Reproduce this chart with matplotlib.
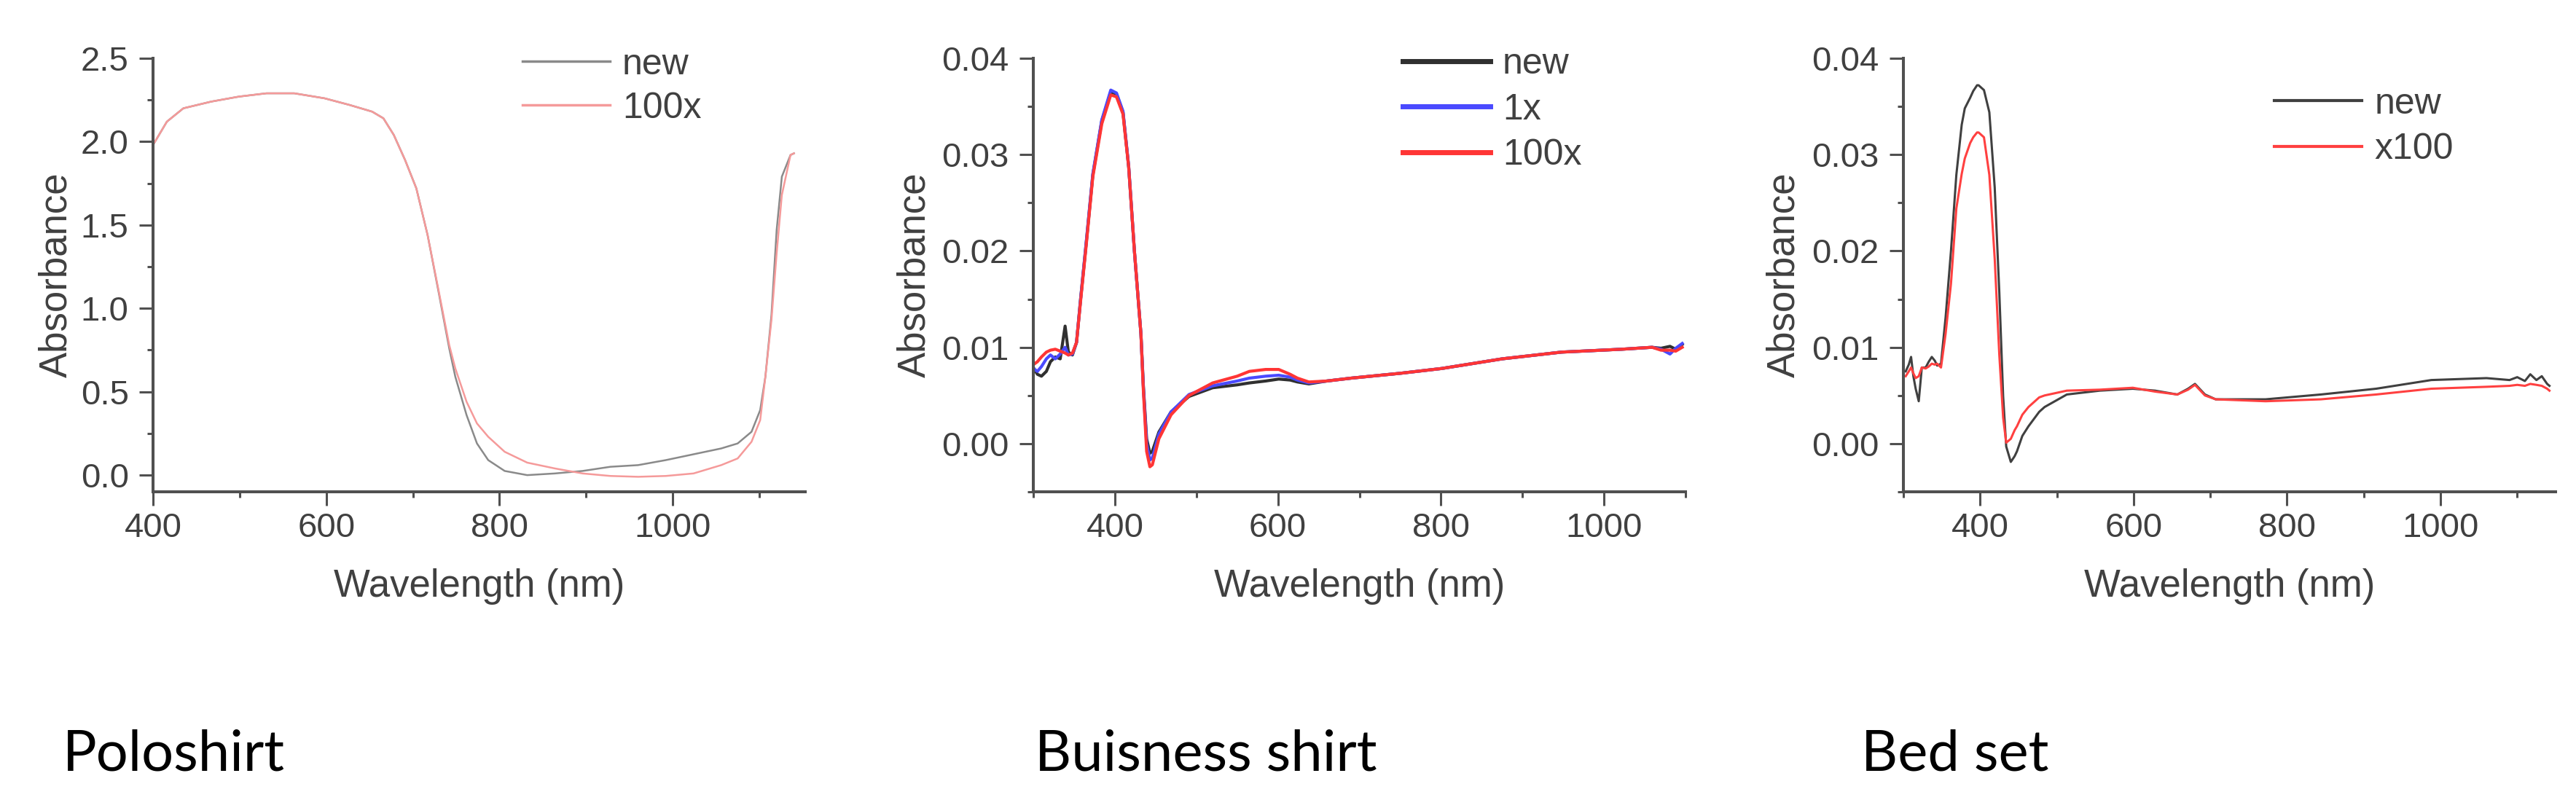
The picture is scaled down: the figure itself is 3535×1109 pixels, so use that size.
import numpy as np
import matplotlib
matplotlib.use("Agg")
import matplotlib.pyplot as plt
from matplotlib.ticker import MultipleLocator, FormatStrFormatter

# Poloshirt
nm1 = [400, 416, 435, 467, 499, 531, 563, 598, 627, 653, 666, 678, 691, 704, 717, 730,
       742, 749, 762, 774, 787, 806, 832, 864, 896, 928, 960, 992, 1024, 1056, 1075,
       1091, 1101, 1107, 1114, 1120, 1126, 1136, 1140]
polo_new = [1.98, 2.12, 2.20, 2.24, 2.27, 2.29, 2.29, 2.26, 2.22, 2.18, 2.14, 2.04, 1.89,
            1.72, 1.44, 1.09, 0.76, 0.59, 0.36, 0.19, 0.09, 0.025, 0.0, 0.01, 0.025, 0.05,
            0.06, 0.09, 0.125, 0.16, 0.19, 0.26, 0.39, 0.59, 0.96, 1.47, 1.79, 1.92, 1.93]
polo_100x = [1.98, 2.12, 2.20, 2.24, 2.27, 2.29, 2.29, 2.26, 2.22, 2.18, 2.14, 2.04, 1.89,
             1.72, 1.44, 1.10, 0.78, 0.64, 0.44, 0.31, 0.23, 0.14, 0.075, 0.04, 0.01, -0.005,
             -0.01, -0.005, 0.01, 0.06, 0.10, 0.20, 0.33, 0.59, 0.93, 1.33, 1.68, 1.92, 1.93]

# Buisness shirt
nm2 = [300, 305, 310, 316, 321, 327, 333, 339, 343, 348, 353, 358, 365, 373, 384, 395,
       402, 410, 417, 424, 432, 435, 439, 443, 446, 454, 469, 491, 520, 550, 565, 585,
       601, 615, 624, 638, 660, 690, 750, 801, 875, 948, 1022, 1059, 1070, 1081, 1088, 1096]
bus_new = [0.0079, 0.0072, 0.0070, 0.0075, 0.0085, 0.0090, 0.0088, 0.0122, 0.0095, 0.0092,
           0.0105, 0.0150, 0.0209, 0.0279, 0.0335, 0.0365, 0.0363, 0.0344, 0.0287, 0.0200,
           0.0114, 0.0060, 0.0005, -0.0010, -0.0008, 0.0012, 0.0033, 0.0049, 0.0058, 0.0061,
           0.0063, 0.0065, 0.0067, 0.0066, 0.0064, 0.0062, 0.0065, 0.0068, 0.0073, 0.0078,
           0.0088, 0.0095, 0.0098, 0.0100, 0.0099, 0.0101, 0.0098, 0.0103]
bus_1x = [0.0078, 0.0075, 0.0080, 0.0088, 0.0092, 0.0088, 0.0093, 0.0100, 0.0092, 0.0093,
          0.0105, 0.0150, 0.0210, 0.0280, 0.0336, 0.0367, 0.0364, 0.0345, 0.0288, 0.0200,
          0.0114, 0.0058, 0.0000, -0.0017, -0.0015, 0.0010, 0.0033, 0.0051, 0.0060, 0.0065,
          0.0068, 0.0070, 0.0071, 0.0069, 0.0066, 0.0063, 0.0065, 0.0068, 0.0073, 0.0078,
          0.0088, 0.0095, 0.0098, 0.0100, 0.0098, 0.0093, 0.0099, 0.0104]
bus_100x = [0.0082, 0.0085, 0.0090, 0.0095, 0.0097, 0.0098, 0.0096, 0.0094, 0.0092, 0.0094,
            0.0105, 0.0148, 0.0207, 0.0277, 0.0332, 0.0362, 0.0360, 0.0342, 0.0287, 0.0200,
            0.0114, 0.0055, -0.0008, -0.0024, -0.0022, 0.0005, 0.0030, 0.0050, 0.0063, 0.0070,
            0.0075, 0.0077, 0.0077, 0.0072, 0.0068, 0.0064, 0.0065, 0.0068, 0.0073, 0.0078,
            0.0088, 0.0095, 0.0098, 0.0100, 0.0097, 0.0097, 0.0096, 0.0100]

# Bed set
nm3 = [303, 307, 310, 313, 316, 320, 324, 329, 333, 337, 341, 344, 349, 355, 362, 369,
       376, 380, 387, 391, 396, 398, 405, 412, 419, 425, 430, 434, 440, 445, 448, 455,
       463, 477, 484, 513, 556, 599, 628, 657, 671, 680, 693, 707, 772, 844, 916, 988,
       1060, 1090, 1100, 1110, 1117, 1125, 1132, 1139, 1142]
bed_new = [0.0075, 0.0082, 0.0090, 0.0070, 0.0057, 0.0044, 0.0079, 0.0079, 0.0085, 0.0090,
           0.0086, 0.0081, 0.0083, 0.0131, 0.0200, 0.0279, 0.0331, 0.0348, 0.0359, 0.0366,
           0.0372, 0.0372, 0.0367, 0.0344, 0.0266, 0.0157, 0.0049, -0.0003, -0.0019, -0.0013,
           -0.0008, 0.0008, 0.0018, 0.0033, 0.0038, 0.0051, 0.0055, 0.0057, 0.0055, 0.0051,
           0.0057, 0.0062, 0.0051, 0.0046, 0.0046, 0.0051, 0.0057, 0.0066, 0.0068, 0.0066,
           0.0069, 0.0065, 0.0072, 0.0066, 0.0070, 0.0062, 0.0060]
bed_x100 = [0.0070, 0.0075, 0.0079, 0.0073, 0.0068, 0.0070, 0.0079, 0.0078, 0.0080, 0.0083,
            0.0082, 0.0083, 0.0079, 0.0114, 0.0166, 0.0244, 0.0280, 0.0296, 0.0312, 0.0318,
            0.0323, 0.0323, 0.0318, 0.0279, 0.0192, 0.0092, 0.0027, 0.0001, 0.0005, 0.0014,
            0.0018, 0.0030, 0.0038, 0.0048, 0.0050, 0.0055, 0.0056, 0.0058, 0.0054, 0.0051,
            0.0056, 0.0061, 0.0050, 0.0046, 0.0044, 0.0046, 0.0051, 0.0057, 0.0059, 0.0060,
            0.0061, 0.0060, 0.0062, 0.0061, 0.0060, 0.0057, 0.0055]

titles = ["Poloshirt", "Buisness shirt", "Bed set"]

plt.rcParams['font.family'] = ['Liberation Sans', 'DejaVu Sans']
txt = '#404040'
axc = '#505050'

fig = plt.figure(figsize=(35.35, 11.09), dpi=100)
W, H = 3535, 1109

def make_ax(left_px, ylab_x):
    ax = fig.add_axes([left_px / W, 1 - 675 / H, 895 / W, 595 / H])
    for s in ['top', 'right']:
        ax.spines[s].set_visible(False)
    for s in ['left', 'bottom']:
        ax.spines[s].set_linewidth(2.9)
        ax.spines[s].set_color(axc)
    ax.tick_params(which='major', direction='out', length=14, width=2.2, color=axc,
                   labelsize=34, labelcolor=txt)
    ax.tick_params(which='minor', direction='out', length=6, width=2.2, color=axc)
    ax.tick_params(axis='x', which='major', pad=6)
    ax.tick_params(axis='y', which='major', pad=10)
    ax.xaxis.set_major_locator(MultipleLocator(200))
    ax.xaxis.set_minor_locator(MultipleLocator(100))
    ax.set_xlabel('Wavelength (nm)', fontsize=38, color=txt)
    ax.set_ylabel('Absorbance', fontsize=38, color=txt)
    ax.xaxis.set_label_coords(0.5, -0.176)
    ax.yaxis.set_label_coords(ylab_x, 0.5)
    return ax

leg_kw = dict(loc='upper left', frameon=False, fontsize=36, handlelength=2.4,
              handletextpad=0.35, borderpad=0, borderaxespad=0, labelcolor=txt)

# panel 1
ax1 = make_ax(210, -0.12)
ax1.plot(nm1, polo_new, color='#8a8a8a', lw=1.8, label='new')
ax1.plot(nm1, polo_100x, color='#f59a9a', lw=1.8, label='100x')
ax1.set_xlim(400, 1153)
ax1.set_ylim(-0.1, 2.5)
ax1.yaxis.set_major_locator(MultipleLocator(0.5))
ax1.yaxis.set_minor_locator(MultipleLocator(0.25))
ax1.yaxis.set_major_formatter(FormatStrFormatter('%.1f'))
leg1 = ax1.legend(bbox_to_anchor=(0.566, 1.024), labelspacing=0.28, **leg_kw)
for ln in leg1.get_lines():
    ln.set_linewidth(2.5)

# panel 2
ax2 = make_ax(1418, -0.154)
ax2.plot(nm2, bus_new, color='#303030', lw=3, label='new')
ax2.plot(nm2, bus_1x, color='#4a4aff', lw=3, label='1x')
ax2.plot(nm2, bus_100x, color='#ff3535', lw=3, label='100x')
ax2.set_xlim(300, 1100)
ax2.set_ylim(-0.005, 0.04)
ax2.yaxis.set_major_locator(MultipleLocator(0.01))
ax2.yaxis.set_minor_locator(MultipleLocator(0.005))
ax2.yaxis.set_major_formatter(FormatStrFormatter('%.2f'))
leg2 = ax2.legend(bbox_to_anchor=(0.566, 1.025), labelspacing=0.33, **leg_kw)
for ln in leg2.get_lines():
    ln.set_linewidth(5)

# panel 3
ax3 = make_ax(2612, -0.155)
ax3.plot(nm3, bed_new, color='#404040', lw=2.2, label='new')
ax3.plot(nm3, bed_x100, color='#ff4040', lw=2.2, label='x100')
ax3.set_xlim(300, 1150)
ax3.set_ylim(-0.005, 0.04)
ax3.yaxis.set_major_locator(MultipleLocator(0.01))
ax3.yaxis.set_minor_locator(MultipleLocator(0.005))
ax3.yaxis.set_major_formatter(FormatStrFormatter('%.2f'))
leg3 = ax3.legend(bbox_to_anchor=(0.569, 0.933), labelspacing=0.33, **leg_kw)
for ln in leg3.get_lines():
    ln.set_linewidth(3)

for x_px, t in zip([86, 1420, 2554], titles):
    fig.text(x_px / W, 1 - 1057 / H, t, fontsize=56, family=['Lato', 'DejaVu Sans'],
             color='black', ha='left', va='baseline')

fig.savefig('out.png', dpi=100, facecolor='white')
